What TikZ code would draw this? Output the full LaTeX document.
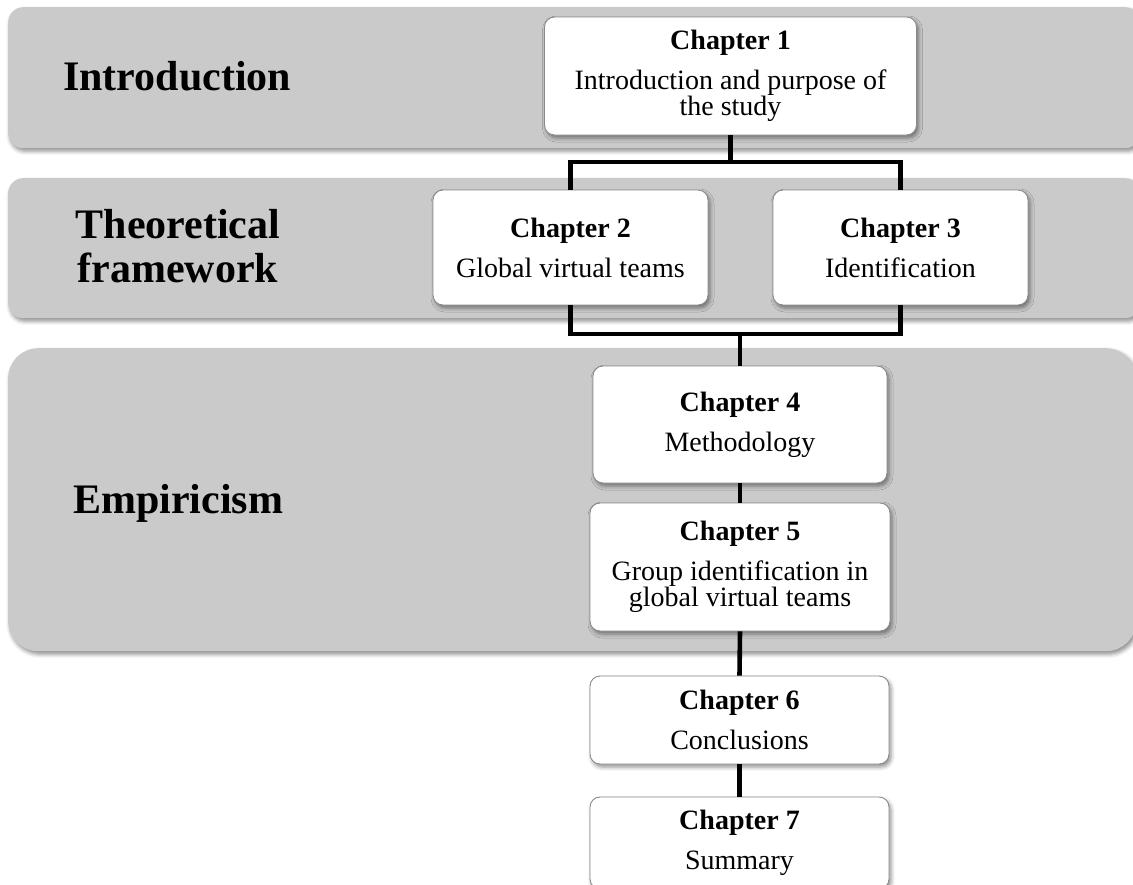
\documentclass[tikz,border=0pt]{standalone}
\usepackage{fontspec}
\setmainfont{Liberation Serif}
\usetikzlibrary{shadows.blur}
\definecolor{bandgray}{HTML}{CACACA}
\definecolor{boxline}{HTML}{8A8A8A}
\begin{document}
\begin{tikzpicture}[x=1pt,y=1pt,
  softshadow/.style={blur shadow={shadow xshift=2pt, shadow yshift=-3pt,
      shadow blur radius=4pt, shadow opacity=45}},
  band/.style={rectangle, fill=bandgray, draw=none, inner sep=0pt, softshadow},
  bandlabel/.style={font=\fontsize{42}{44}\selectfont\bfseries, inner sep=0pt, align=center},
  chapbox/.style={rectangle, rounded corners=10pt, fill=white, draw=boxline,
      line width=0.9pt, inner sep=0pt, align=center,
      font=\fontsize{28}{26.5}\selectfont, softshadow},
  conn/.style={line width=4.6pt, draw=black}
]
\useasboundingbox (0,0) rectangle (1133,-884);

% grey bands for the three parts
\node[band, rounded corners=15pt, minimum width=1132pt, minimum height=141pt,
      anchor=north west] (bintro) at (8,-7) {};
\node[band, rounded corners=15pt, minimum width=1132pt, minimum height=140pt,
      anchor=north west] (btheory) at (8,-178) {};
\node[band, rounded corners=30pt, minimum width=1128pt, minimum height=303pt,
      anchor=north west] (bemp) at (8,-348) {};

% part titles
\node[bandlabel, anchor=base west] (lintro) at (63,-90) {Introduction};
\node[bandlabel] (ltheory) at (178,-245.7) {Theoretical\\framework};
\node[bandlabel, anchor=base west] (lemp) at (73,-513) {Empiricism};

% chapter boxes
\node[chapbox, minimum width=372pt, minimum height=118pt] (ch1) at (730.5,-76)
  {\textbf{Chapter 1}\\[13.5pt]Introduction and purpose of\\the study};
\node[chapbox, minimum width=275pt, minimum height=115pt] (ch2) at (570.5,-247.5)
  {\textbf{Chapter 2}\\[13.5pt]Global virtual teams};
\node[chapbox, minimum width=255pt, minimum height=115pt] (ch3) at (900.5,-247.5)
  {\textbf{Chapter 3}\\[13.5pt]Identification};
\node[chapbox, minimum width=294pt, minimum height=117pt] (ch4) at (740,-424.5)
  {\textbf{Chapter 4}\\[13.5pt]Methodology};
\node[chapbox, minimum width=300pt, minimum height=128pt] (ch5) at (740,-567)
  {\textbf{Chapter 5}\\[13.5pt]Group identification in\\global virtual teams};
\node[chapbox, minimum width=299pt, minimum height=88pt] (ch6) at (739.5,-720)
  {\textbf{Chapter 6}\\[13.5pt]Conclusions};
\node[chapbox, minimum width=299pt, minimum height=92pt] (ch7) at (739.5,-843)
  {\textbf{Chapter 7}\\[13.5pt]Summary};

% junction points of the connectors
\coordinate (j1) at (ch1.south |- 0,-162);
\coordinate (j2) at (ch4.north |- 0,-334);

% connectors
\draw[conn] (ch1.south) -- (j1);
\draw[conn] (ch2.north) |- (j1) -| (ch3.north);
\draw[conn] (ch2.south) |- (j2) -| (ch3.south);
\draw[conn] (j2) -- (ch4.north);
\draw[conn] (ch4.south) -- (ch5.north);
\draw[conn] (ch5.south) -- (ch6.north);
\draw[conn] (ch6.south) -- (ch7.north);
\end{tikzpicture}
\end{document}
